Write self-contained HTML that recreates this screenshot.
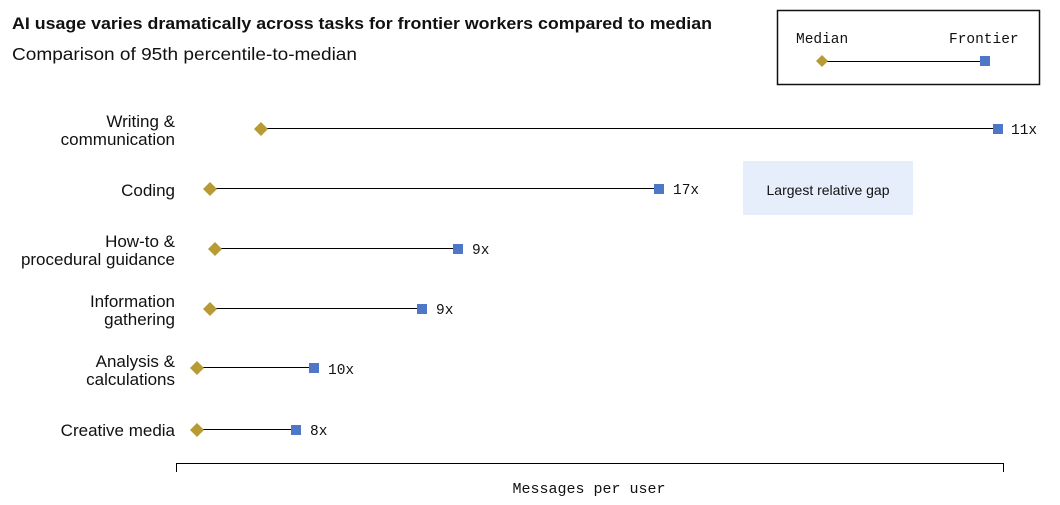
<!DOCTYPE html>
<html><head><style>
body{margin:0;background:#fff;}
svg{display:block;}
.s{font-family:"Liberation Sans",sans-serif;fill:#111;}
.m{font-family:"Liberation Mono",monospace;fill:#111;}
</style></head><body>
<svg width="1060" height="505" viewBox="0 0 1060 505">
<text class="s" x="12" y="29" font-size="17" font-weight="bold" textLength="700" lengthAdjust="spacingAndGlyphs">AI usage varies dramatically across tasks for frontier workers compared to median</text>
<text class="s" x="12" y="60" font-size="17.5" textLength="345" lengthAdjust="spacingAndGlyphs">Comparison of 95th percentile-to-median</text>
<rect x="777.5" y="10.5" width="262" height="74" fill="none" stroke="#111" stroke-width="1.5"/>
<text class="m" x="796" y="43" font-size="14.5">Median</text>
<text class="m" x="949" y="43" font-size="14.5">Frontier</text>
<line x1="822" y1="61.5" x2="985" y2="61.5" stroke="#000" stroke-width="1"/>
<path d="M822 55 L828 61 L822 67 L816 61Z" fill="#b89b35"/>
<rect x="980" y="56" width="10" height="10" fill="#4f77c8"/>
<rect x="743" y="161" width="170" height="54" fill="#e6eefb"/>
<text class="s" x="828" y="195" font-size="14" text-anchor="middle">Largest relative gap</text>
<g font-size="17" text-anchor="end" class="s">
<text class="s" x="175" y="127">Writing &amp;</text><text class="s" x="175" y="145">communication</text>
<text class="s" x="175" y="196">Coding</text>
<text class="s" x="175" y="247">How-to &amp;</text><text class="s" x="175" y="265">procedural guidance</text>
<text class="s" x="175" y="307">Information</text><text class="s" x="175" y="325">gathering</text>
<text class="s" x="175" y="367">Analysis &amp;</text><text class="s" x="175" y="385">calculations</text>
<text class="s" x="175" y="436">Creative media</text>
</g>
<g stroke="#000" stroke-width="1">
<line x1="261" y1="128.5" x2="998" y2="128.5"/>
<line x1="210" y1="188.5" x2="659" y2="188.5"/>
<line x1="215" y1="248.5" x2="458" y2="248.5"/>
<line x1="210" y1="308.5" x2="422" y2="308.5"/>
<line x1="197" y1="367.5" x2="314" y2="367.5"/>
<line x1="197" y1="429.5" x2="296" y2="429.5"/>
</g>
<g fill="#b89b35">
<path d="M261 122 L268 129 L261 136 L254 129Z"/>
<path d="M210 182 L217 189 L210 196 L203 189Z"/>
<path d="M215 242 L222 249 L215 256 L208 249Z"/>
<path d="M210 302 L217 309 L210 316 L203 309Z"/>
<path d="M197 361 L204 368 L197 375 L190 368Z"/>
<path d="M197 423 L204 430 L197 437 L190 430Z"/>
</g>
<g fill="#4f77c8">
<rect x="993" y="124" width="10" height="10"/>
<rect x="654" y="184" width="10" height="10"/>
<rect x="453" y="244" width="10" height="10"/>
<rect x="417" y="304" width="10" height="10"/>
<rect x="309" y="363" width="10" height="10"/>
<rect x="291" y="425" width="10" height="10"/>
</g>
<g font-size="14.5" class="m">
<text class="m" x="1011" y="134">11x</text>
<text class="m" x="673" y="194">17x</text>
<text class="m" x="472" y="254">9x</text>
<text class="m" x="436" y="314">9x</text>
<text class="m" x="328" y="374">10x</text>
<text class="m" x="310" y="435">8x</text>
</g>
<g stroke="#000" stroke-width="1">
<line x1="176.5" y1="463.5" x2="1003.5" y2="463.5"/>
<line x1="176.5" y1="463" x2="176.5" y2="472"/>
<line x1="1003.5" y1="463" x2="1003.5" y2="472"/>
</g>
<text class="m" x="589" y="493" font-size="15" text-anchor="middle">Messages per user</text>
</svg>
</body></html>
